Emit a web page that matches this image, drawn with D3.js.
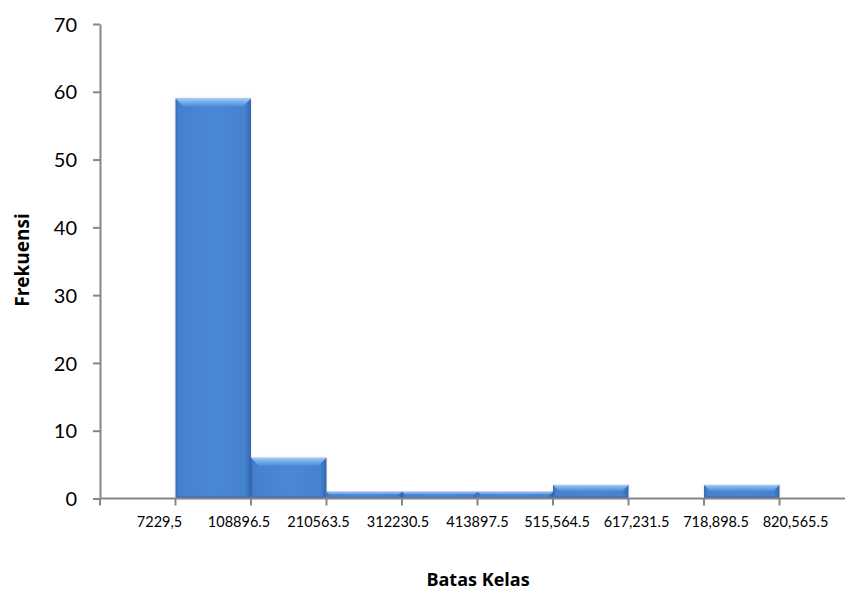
<!DOCTYPE html>
<html>
<head>
<meta charset="utf-8">
<script src="https://cdn.jsdelivr.net/npm/d3@7/dist/d3.min.js"></script>
<style>
  html, body { margin: 0; padding: 0; background: #ffffff; }
  svg { display: block; }
  text { font-family: Lato, "Open Sans", sans-serif; fill: #000; }
</style>
</head>
<body>
<svg id="chart" width="845" height="594"></svg>
<script>
// Histogram bins (class intervals) and their frequencies
const bins = ["b0", "b1", "b2", "b3", "b4", "b5", "b6", "b7", "b8", "b9"];
const frequencies = [0, 59, 6, 1, 1, 1, 2, 0, 2, 0];
// Class boundary labels, one per inner bin edge
const boundaryLabels = ["7229,5", "108896.5", "210563.5", "312230.5", "413897.5",
                        "515,564.5", "617,231.5", "718,898.5", "820,565.5"];
const yTicks = [0, 10, 20, 30, 40, 50, 60, 70];
const xTitle = "Batas Kelas";
const yTitle = "Frekuensi";

const svg = d3.select("#chart");
const axisColor = "#868686";

const x = d3.scaleBand().domain(bins).range([100, 855]).padding(0);
const y = d3.scaleLinear().domain([0, 70]).range([498.5, 24]);

// Gradients for the bevelled bars
const defs = svg.append("defs");
const body = defs.append("linearGradient").attr("id", "barBody")
  .attr("x1", "0%").attr("x2", "100%").attr("y1", "0%").attr("y2", "0%");
[[0, "#3569b3"], [0.04, "#4580cd"], [0.5, "#4a88d6"], [0.92, "#4482cf"], [1, "#3466ae"]]
  .forEach(([o, c]) => body.append("stop").attr("offset", o).attr("stop-color", c));
const topBevel = defs.append("linearGradient").attr("id", "barTop")
  .attr("x1", "0%").attr("x2", "0%").attr("y1", "0%").attr("y2", "100%");
[[0, "#a6cdf5"], [0.35, "#7db2ee"], [1, "#4e8cd8"]]
  .forEach(([o, c]) => topBevel.append("stop").attr("offset", o).attr("stop-color", c));
const bottomBevel = defs.append("linearGradient").attr("id", "barBottom")
  .attr("x1", "0%").attr("x2", "0%").attr("y1", "0%").attr("y2", "100%");
[[0, "#4580cd"], [1, "#2d5fa6"]]
  .forEach(([o, c]) => bottomBevel.append("stop").attr("offset", o).attr("stop-color", c));
const shadow = defs.append("filter").attr("id", "barShadow")
  .attr("x", "-20%").attr("y", "-10%").attr("width", "140%").attr("height", "120%");
shadow.append("feDropShadow").attr("dx", 0).attr("dy", 0).attr("stdDeviation", 1.5)
  .attr("flood-color", "#000").attr("flood-opacity", 0.12);

// Bars
const data = bins.map((b, i) => ({ bin: b, value: frequencies[i] })).filter(d => d.value > 0);
const bars = svg.append("g").selectAll("g").data(data).join("g")
  .attr("filter", "url(#barShadow)");

bars.each(function (d) {
  const g = d3.select(this);
  const x0 = x(d.bin), x1 = x(d.bin) + x.bandwidth();
  const y0 = y(d.value), y1 = y(0);
  const h = y1 - y0;
  const bt = Math.min(8, h * 0.45);   // top bevel depth
  const bb = Math.min(3, h * 0.3);    // bottom bevel depth
  const bs = 3;                        // side bevel width
  g.append("rect").attr("x", x0).attr("y", y0).attr("width", x1 - x0).attr("height", h)
    .attr("fill", "url(#barBody)");
  // bottom bevel
  g.append("path").attr("d", `M${x0},${y1}L${x0 + bs},${y1 - bb}L${x1 - bs},${y1 - bb}L${x1},${y1}Z`)
    .attr("fill", "url(#barBottom)");
  // top bevel
  g.append("path").attr("d", `M${x0},${y0}L${x1},${y0}L${x1 - bt},${y0 + bt}L${x0 + bt},${y0 + bt}Z`)
    .attr("fill", "url(#barTop)");
});

// Y axis
const yAxis = svg.append("g").attr("transform", "translate(100,0)")
  .call(d3.axisLeft(y).tickValues(yTicks).tickSize(7).tickPadding(16).tickSizeOuter(0));
yAxis.select(".domain").attr("stroke", axisColor).attr("stroke-width", 2);
yAxis.selectAll(".tick line").attr("stroke", axisColor).attr("stroke-width", 2);
yAxis.selectAll(".tick text").style("font-size", "20px").style("font-family", "Lato, sans-serif")
  .attr("fill", "#000").attr("dy", "0.36em");

// X axis: ticks on bin edges
const xAxisG = svg.append("g");
xAxisG.append("line").attr("x1", 100).attr("x2", 855).attr("y1", y(0)).attr("y2", y(0))
  .attr("stroke", axisColor).attr("stroke-width", 2);
xAxisG.selectAll("line.edge").data(bins).join("line").attr("class", "edge")
  .attr("x1", d => x(d)).attr("x2", d => x(d))
  .attr("y1", y(0)).attr("y2", y(0) + 7)
  .attr("stroke", axisColor).attr("stroke-width", 2);

// Boundary labels spread along the axis
const lab = d3.scalePoint().domain(boundaryLabels)
  .range([x(bins[1]) - 16, x(bins[9]) + 16]);
xAxisG.selectAll("text").data(boundaryLabels).join("text")
  .attr("x", d => lab(d)).attr("y", 527)
  .attr("text-anchor", "middle").style("font-size", "14.5px")
  .text(d => d);

// Axis titles
svg.append("text").attr("transform", "translate(29,260) rotate(-90)")
  .attr("text-anchor", "middle").style("font-family", "'Open Sans', sans-serif")
  .style("font-size", "19px").style("font-weight", "bold")
  .text(yTitle);
svg.append("text").attr("x", 478).attr("y", 586)
  .attr("text-anchor", "middle").style("font-family", "'Open Sans', sans-serif")
  .style("font-size", "18px").style("font-weight", "bold")
  .text(xTitle);
</script>
</body>
</html>
